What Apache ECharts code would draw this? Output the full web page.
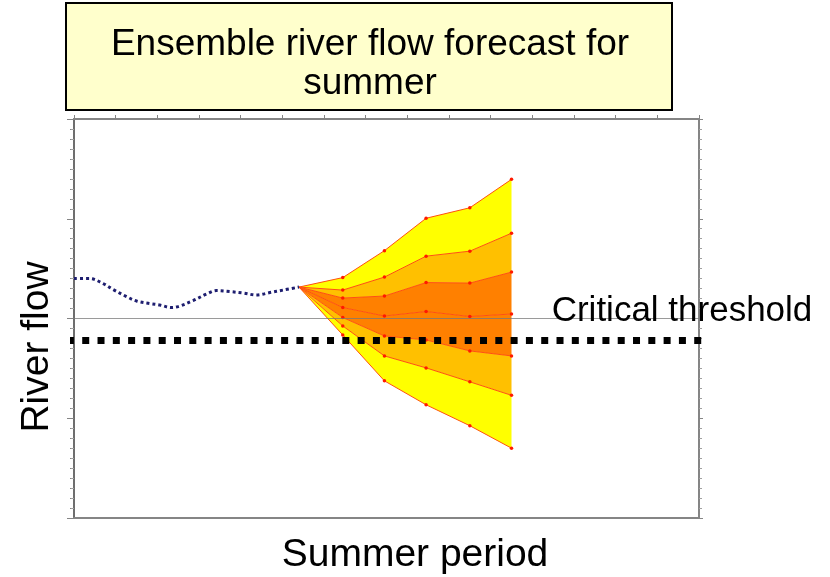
<!DOCTYPE html>
<html>
<head>
<meta charset="utf-8">
<title>Ensemble river flow forecast for summer</title>
<script src="https://cdn.jsdelivr.net/npm/echarts@6/dist/echarts.min.js"></script>
<style>
  html, body { margin: 0; padding: 0; background: #ffffff; }
  #chart { width: 830px; height: 577px; }
</style>
</head>
<body>
<div id="chart"></div>
<script>
// Observed river flow up to the forecast start (time in periods, flow in arbitrary units)
const observedTime = [0, 0.38, 0.70, 0.94, 1.26, 1.50, 1.82, 2.06, 2.34, 2.54, 2.86, 3.18, 3.42, 3.74, 4.06, 4.38, 4.70, 5.02, 5.40];
const observedFlow = [24.0, 24.0, 23.5, 22.9, 22.2, 21.75, 21.5, 21.35, 21.1, 21.25, 21.8, 22.45, 22.8, 22.7, 22.55, 22.35, 22.6, 22.85, 23.15];

// Forecast times: the first one is the forecast start
const forecastTime = [5.40, 6.45, 7.45, 8.45, 9.50, 10.50];

// Ensemble envelope lines, from highest to lowest
const envelopeHigh   = [23.15, 24.1, 26.8, 30.05, 31.1, 33.95];
const envelopeUpper2 = [23.15, 22.85, 24.15, 26.25, 26.75, 28.55];
const envelopeUpper1 = [23.15, 22.05, 22.25, 23.6, 23.55, 24.65];
const envelopeMedian = [23.15, 21.1, 20.25, 20.7, 20.2, 20.45];
const envelopeLower1 = [23.15, 20.1, 18.25, 17.85, 16.75, 16.25];
const envelopeLower2 = [23.15, 19.25, 16.25, 15.05, 13.65, 12.3];
const envelopeLow    = [23.15, 18.35, 13.75, 11.35, 9.25, 7.0];

// Critical flow threshold and the reference level drawn across the plot
const criticalThreshold = 17.8;
const referenceLevel = 20;

const envelopes = [envelopeHigh, envelopeUpper2, envelopeUpper1, envelopeMedian, envelopeLower1, envelopeLower2, envelopeLow];
// Band colours between consecutive envelope lines, top to bottom
const bandColors = ['#FFFF00', '#FFC000', '#FF8000', '#FF8000', '#FFC000', '#FFFF00'];

const AXIS_GREY = '#858585';
const FONT = '"Liberation Sans", Arial, sans-serif';

const pairs = (xs, ys) => xs.map((x, i) => [x, ys[i]]);

const series = [];

// Filled bands between consecutive envelope lines, projected through the axes
series.push({
  type: 'custom',
  coordinateSystem: 'cartesian2d',
  data: bandColors.map((c, k) => [forecastTime[0], envelopes[k][0], k]),
  encode: { x: 0, y: 1 },
  silent: true,
  z: 2,
  renderItem: function (params, api) {
    const k = api.value(2);
    const upper = envelopes[k], lower = envelopes[k + 1];
    const pts = [];
    for (let i = 0; i < forecastTime.length; i++) pts.push(api.coord([forecastTime[i], upper[i]]));
    for (let i = forecastTime.length - 1; i >= 0; i--) pts.push(api.coord([forecastTime[i], lower[i]]));
    return {
      type: 'polygon',
      shape: { points: pts },
      style: { fill: bandColors[k], stroke: null }
    };
  }
});

// Envelope lines with their points
envelopes.forEach(vals => {
  series.push({
    type: 'line',
    data: pairs(forecastTime, vals),
    symbol: 'circle',
    symbolSize: (v, p) => (p.dataIndex === 0 ? 0 : 3.5),
    showSymbol: true,
    itemStyle: { color: '#FF1A00', borderWidth: 0 },
    lineStyle: { color: '#FF5010', width: 1 },
    silent: true, z: 3
  });
});

// Observed flow (dotted)
series.push({
  type: 'line',
  data: pairs(observedTime, observedFlow),
  smooth: 0.35,
  symbol: 'none',
  lineStyle: { color: '#1E1E70', width: 3, type: [3, 3], cap: 'butt' },
  silent: true, z: 4
});

// Reference level line
series.push({
  type: 'line',
  data: [[-0.17, referenceLevel], [15, referenceLevel]],
  clip: false,
  symbol: 'none',
  lineStyle: { color: 'rgba(120,120,120,0.75)', width: 1 },
  silent: true, z: 5
});

// Critical threshold (heavy square dots)
series.push({
  type: 'line',
  data: [[-0.17, criticalThreshold], [15.27, criticalThreshold]],
  clip: false,
  symbol: 'none',
  lineStyle: { color: '#000000', width: 7, type: [7, 8.3], cap: 'butt' },
  silent: true, z: 6
});

const chart = echarts.init(document.getElementById('chart'), null, { renderer: 'canvas' });

const baseX = {
  type: 'value', min: 0, max: 15, interval: 1,
  axisLabel: { show: false }, splitLine: { show: false }
};
const baseY = {
  type: 'value', min: 0, max: 40, interval: 10,
  axisLabel: { show: false }, splitLine: { show: false }
};

chart.setOption({
  animation: false,
  backgroundColor: '#ffffff',
  grid: { left: 74, right: 131, top: 119, bottom: 59, containLabel: false },
  xAxis: [
    Object.assign({}, baseX, {
      position: 'top',
      axisLine: { show: true, onZero: false, lineStyle: { color: AXIS_GREY, width: 2 } },
      axisTick: { show: true, length: 4, lineStyle: { color: AXIS_GREY, width: 1 } }
    }),
    Object.assign({}, baseX, {
      position: 'bottom',
      axisLine: { show: true, onZero: false, lineStyle: { color: AXIS_GREY, width: 2 } },
      axisTick: { show: false }
    })
  ],
  yAxis: [
    Object.assign({}, baseY, {
      position: 'left',
      axisLine: { show: true, onZero: false, lineStyle: { color: '#6e6e6e', width: 2 } },
      axisTick: { show: true, length: 7, lineStyle: { color: AXIS_GREY, width: 1 } },
      minorTick: { show: true, splitNumber: 10, length: 4, lineStyle: { color: AXIS_GREY, width: 1 } }
    }),
    Object.assign({}, baseY, {
      position: 'right',
      axisLine: { show: true, onZero: false, lineStyle: { color: AXIS_GREY, width: 2 } },
      axisTick: { show: true, length: 4, lineStyle: { color: AXIS_GREY, width: 1 } },
      minorTick: { show: true, splitNumber: 10, length: 3, lineStyle: { color: '#a0a0a0', width: 1 } }
    }),
    Object.assign({}, baseY, {
      position: 'right',
      axisLine: { show: false },
      axisTick: { show: false, inside: true },
      minorTick: { show: true, splitNumber: 10, length: 3, lineStyle: { color: '#a0a0a0', width: 1 } }
    })
  ],
  series: series,
  graphic: [
    {
      type: 'rect', z: 10,
      shape: { x: 66, y: 3, width: 606, height: 107 },
      style: { fill: '#FFFFCC', stroke: '#000000', lineWidth: 2 }
    },
    {
      type: 'text', z: 11, x: 370, y: 45,
      style: { text: 'Ensemble river flow forecast for', font: '37px ' + FONT, fill: '#000',
               align: 'center', verticalAlign: 'middle', textAlign: 'center', textVerticalAlign: 'middle' }
    },
    {
      type: 'text', z: 11, x: 370, y: 84,
      style: { text: 'summer', font: '37px ' + FONT, fill: '#000',
               align: 'center', verticalAlign: 'middle', textAlign: 'center', textVerticalAlign: 'middle' }
    },
    {
      type: 'text', z: 11, x: 682, y: 311,
      style: { text: 'Critical threshold', font: '35px ' + FONT, fill: '#000',
               align: 'center', verticalAlign: 'middle', textAlign: 'center', textVerticalAlign: 'middle' }
    },
    {
      type: 'text', z: 11, x: 415, y: 555,
      style: { text: 'Summer period', font: '39px ' + FONT, fill: '#000',
               align: 'center', verticalAlign: 'middle', textAlign: 'center', textVerticalAlign: 'middle' }
    },
    {
      type: 'text', z: 11, x: 37, y: 347, rotation: Math.PI / 2,
      style: { text: 'River flow', font: '39px ' + FONT, fill: '#000',
               align: 'center', verticalAlign: 'middle', textAlign: 'center', textVerticalAlign: 'middle' }
    }
  ]
});
</script>
</body>
</html>
